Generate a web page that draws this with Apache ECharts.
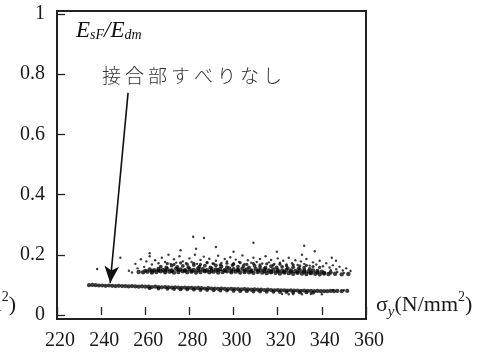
<!DOCTYPE html>
<html><head><meta charset="utf-8">
<script src="https://cdn.jsdelivr.net/npm/echarts@6/dist/echarts.min.js"></script>
<style>html,body{margin:0;padding:0;background:#fff}#c{width:493px;height:354px}</style>
</head><body><div id="c"></div>
<script>
// ---- data ----
const xTicks = [220, 240, 260, 280, 300, 320, 340, 360];
const yTicks = [0, 0.2, 0.4, 0.6, 0.8, 1];
// upper cloud, dense core rows
const coreA = [[257,0.143],[259,0.142],[261,0.144],[263,0.141],[265,0.143],[267,0.145],[269,0.142],[271,0.144],[273,0.141],[275,0.143],[277,0.145],[279,0.142],[281,0.144],[283,0.141],[285,0.143],[287,0.145],[289,0.142],[291,0.144],[293,0.141],[295,0.143],[297,0.145],[299,0.142],[301,0.144],[303,0.141],[305,0.143],[307,0.142],[309,0.140],[311,0.143],[313,0.141],[315,0.139],[317,0.142],[319,0.140],[321,0.138],[323,0.141],[325,0.139],[327,0.137],[329,0.140],[331,0.138],[333,0.136],[335,0.139],[337,0.137],[339,0.135],[341,0.138],[343,0.136],[346,0.137],[349,0.135],[352,0.136]];
const coreD = [[260,0.147],[263,0.146],[266,0.148],[269,0.147],[272,0.146],[275,0.149],[278,0.147],[281,0.146],[284,0.148],[287,0.147],[290,0.146],[293,0.149],[296,0.147],[299,0.146],[302,0.148],[305,0.147],[308,0.145],[311,0.147],[314,0.146],[317,0.144],[320,0.145],[323,0.143],[326,0.144],[329,0.142],[332,0.143],[335,0.141],[338,0.142],[341,0.140],[344,0.141]];
const coreB = [[262,0.151],[264,0.149],[266,0.153],[268,0.150],[270,0.152],[272,0.148],[274,0.154],[276,0.151],[278,0.149],[280,0.153],[282,0.150],[284,0.155],[286,0.152],[288,0.149],[290,0.154],[292,0.151],[294,0.153],[296,0.149],[298,0.155],[300,0.152],[302,0.150],[304,0.154],[306,0.151],[308,0.148],[310,0.153],[312,0.150],[314,0.152],[316,0.148],[318,0.151],[320,0.149],[322,0.147],[324,0.150],[326,0.148],[328,0.146],[330,0.149],[332,0.147],[334,0.145],[336,0.148],[338,0.146],[340,0.144]];
const coreC = [[267,0.161],[269.5,0.158],[272,0.164],[274.5,0.160],[277,0.163],[279.5,0.159],[282,0.166],[284.5,0.161],[287,0.164],[289.5,0.158],[292,0.165],[294.5,0.162],[297,0.159],[299.5,0.166],[302,0.161],[304.5,0.163],[307,0.158],[309.5,0.164],[312,0.160],[314.5,0.157],[317,0.162],[319.5,0.158],[322,0.160],[324.5,0.156],[327,0.159],[329.5,0.155],[332,0.157],[334.5,0.153]];
const coreE = [[270,0.171],[273,0.168],[276,0.173],[279,0.169],[282,0.172],[285,0.168],[288,0.174],[291,0.170],[294,0.167],[297,0.172],[300,0.169],[303,0.174],[306,0.168],[309,0.171],[312,0.167],[315,0.170],[318,0.166],[321,0.169],[324,0.164],[327,0.167],[330,0.163],[333,0.165],[336,0.161],[339,0.158]];
// upper cloud, scattered points and outliers
const upperScatter = [[255.5,0.170],[256.5,0.155],[258,0.185],[259.5,0.160],[260.5,0.178],[262,0.195],[263,0.168],[264.5,0.182],[266,0.172],[267.5,0.190],[269,0.176],[270.5,0.200],[271.5,0.170],[273,0.185],[274,0.174],[275.5,0.195],[277,0.178],[278.5,0.172],[280,0.188],[281,0.176],[282.5,0.200],[283.5,0.170],[285,0.183],[286.5,0.194],[288,0.175],[289,0.187],[290.5,0.171],[292,0.180],[293,0.197],[294.5,0.173],[296,0.186],[297,0.178],[298.5,0.192],[300,0.172],[301,0.184],[302.5,0.176],[304,0.198],[305,0.170],[306.5,0.182],[308,0.174],[309,0.190],[310.5,0.176],[312,0.186],[313,0.171],[314.5,0.195],[316,0.175],[317,0.183],[318.5,0.170],[320,0.188],[321,0.174],[322.5,0.180],[324,0.168],[325,0.190],[326.5,0.172],[328,0.182],[329,0.166],[330.5,0.178],[332,0.170],[333,0.186],[334.5,0.164],[336,0.175],[337.5,0.168],[339,0.180],[340.5,0.162],[342,0.172],[343.5,0.158],[345,0.165],[346.5,0.152],[348,0.160],[349.5,0.148],[351,0.155],[353,0.146],[344,0.149],[347,0.143],[350,0.140],
  [238.2,0.153],[248.7,0.190],[252.6,0.147],[254,0.141],[281.7,0.260],[286.6,0.256],[283,0.220],[292,0.226],[309,0.240],[319.6,0.210],[332,0.230],[336.8,0.212],[331,0.200],[344.5,0.190],[346.4,0.180],[276,0.215],[300,0.210],[262,0.205]];
// lower band (no slip at joints)
const lowerA = [[234.5,0.099],[236,0.100],[237.5,0.099],[239,0.098],[240.5,0.098],[242,0.097],[243.5,0.098],[245,0.097],[246.5,0.096],[248,0.097],[249.5,0.096],[251,0.096],[252.5,0.095],[254,0.096],[255.5,0.095],[257,0.094],[258.5,0.095],[260,0.094],[261.5,0.094],[263,0.093],[264.5,0.094],[266,0.093],[267.5,0.092],[269,0.093],[270.5,0.092],[272,0.091],[273.5,0.092],[275,0.091],[276.5,0.090],[278,0.091],[279.5,0.090],[281,0.090],[282.5,0.089],[284,0.090],[285.5,0.089],[287,0.088],[288.5,0.089],[290,0.088],[291.5,0.088],[293,0.087],[294.5,0.088],[296,0.087],[297.5,0.086],[299,0.087],[300.5,0.086],[302,0.086],[303.5,0.085],[305,0.086],[306.5,0.085],[308,0.084],[309.5,0.085],[311,0.084],[312.5,0.084],[314,0.083],[315.5,0.084],[317,0.083],[318.5,0.082],[320,0.083],[321.5,0.082],[323,0.082],[324.5,0.081],[326,0.082],[327.5,0.081],[329,0.081],[330.5,0.080],[332,0.081],[333.5,0.080],[335,0.080],[336.5,0.079],[338,0.080],[339.5,0.079],[341,0.079],[342.5,0.079],[344,0.080],[345.5,0.079],[347,0.080],[349,0.079],[351.5,0.080]];
const lowerB = [[262,0.089],[266,0.088],[270,0.087],[273,0.086],[276,0.085],[279,0.085],[282,0.084],[285,0.083],[288,0.083],[291,0.082],[294,0.081],[297,0.081],[300,0.080],[303,0.079],[306,0.079],[309,0.078],[312,0.078],[315,0.077],[318,0.077],[321,0.076],[324,0.076],[327,0.075],[330,0.075],[333,0.075],[336,0.074]];
const lowerSparse = [[322,0.070],[325,0.069],[327,0.070],[331,0.069],[335,0.070],[340,0.069],[345,0.083],[350,0.082]];
// annotation arrow (data coords)
const arrowFrom = [252.2, 0.738];
const arrowTo = [244.1, 0.106];

const SERIF = 'Liberation Serif';
const chart = echarts.init(document.getElementById('c'), null, {renderer: 'canvas'});
const dot = (name, data, size) => ({
  name, type: 'scatter', data, symbol: 'circle', symbolSize: size,
  itemStyle: {color: '#0a0a0a'}, xAxisIndex: 0, yAxisIndex: 0, silent: true
});
const series = [
  dot('coreA', coreA, 4.4), dot('coreD', coreD, 4.2), dot('coreB', coreB, 4.4), dot('coreC', coreC, 3.8), dot('coreE', coreE, 3.2),
  dot('upperScatter', upperScatter, 2.4),
  dot('lowerA', lowerA, 4.2), dot('lowerB', lowerB, 3.8), dot('lowerSparse', lowerSparse, 2.4)
];
series[6].markLine = {
  silent: true, animation: false,
  symbol: ['none', 'arrow'], symbolSize: [11, 17],
  label: {show: false},
  lineStyle: {color: '#111', width: 1.6, type: 'solid'},
  emphasis: {disabled: true},
  data: [[{coord: arrowFrom}, {coord: arrowTo}]]
};

chart.setOption({
  animation: false,
  grid: [
    {left: 57, right: 127, top: 14, bottom: 39, show: false},
    {left: 57, right: 127, top: 11, bottom: 35, show: true, borderColor: '#222', borderWidth: 2, backgroundColor: 'transparent', z: 0}
  ],
  xAxis: [
    {gridIndex: 0, type: 'value', min: xTicks[0], max: xTicks[xTicks.length - 1], interval: 20, offset: 4,
     axisLine: {show: false}, splitLine: {show: false},
     axisTick: {show: true, inside: true, length: 8, lineStyle: {color: '#222', width: 1.3}},
     axisLabel: {show: true, margin: 12, color: '#1a1a1a', fontFamily: SERIF, fontSize: 20, padding: [0, 0, 0, 6]}},
    {gridIndex: 1, type: 'value', min: 0, max: 1, show: false}
  ],
  yAxis: [
    {gridIndex: 0, type: 'value', min: yTicks[0], max: yTicks[yTicks.length - 1], interval: 0.2,
     axisLine: {show: false}, splitLine: {show: false},
     axisTick: {show: true, inside: true, length: 8, lineStyle: {color: '#222', width: 1.3}},
     axisLabel: {show: true, margin: 12, color: '#1a1a1a', fontFamily: SERIF, fontSize: 20,
       formatter: v => (Math.abs(v) < 1e-9 ? '0' : (Math.abs(v - 1) < 1e-9 ? '1' : String(Math.round(v * 10) / 10)))}},
    {gridIndex: 1, type: 'value', min: 0, max: 1, show: false}
  ],
  series,
  graphic: [
    {type: 'text', left: 76, top: 19, silent: true,
     style: {text: '{E|E}{s|sF}{E|/E}{s|dm}', rich: {
       E: {fontFamily: SERIF, fontStyle: 'italic', fontSize: 23, lineHeight: 24, fill: '#111'},
       s: {fontFamily: SERIF, fontStyle: 'italic', fontSize: 14, lineHeight: 10, verticalAlign: 'bottom', fill: '#111'}
     }}},
    {type: 'text', left: 102, top: 66, silent: true,
     style: {text: '接合部すべりなし'.split('').map(c => '{c|' + c + '}').join(''), rich: {
       c: {fontFamily: 'Noto Sans CJK JP', fontSize: 19, fontWeight: 300, padding: [0, 2, 0, 2], fill: '#333'}
     }}},
    {type: 'text', left: 376, top: 290, silent: true,
     style: {text: '{a|σ}{b|y}{a|(N/mm}{c|2}{a|)}', rich: {
       a: {fontFamily: SERIF, fontSize: 22, lineHeight: 26, fill: '#1a1a1a'},
       b: {fontFamily: SERIF, fontStyle: 'italic', fontSize: 15, lineHeight: 14, verticalAlign: 'bottom', fill: '#1a1a1a'},
       c: {fontFamily: SERIF, fontSize: 14, lineHeight: 30, verticalAlign: 'top', fill: '#1a1a1a'}
     }}},
    {type: 'text', right: 477, top: 290, silent: true,
     style: {text: '{a|(N/mm}{c|2}{a|)}', rich: {
       a: {fontFamily: SERIF, fontSize: 22, lineHeight: 26, fill: '#1a1a1a'},
       c: {fontFamily: SERIF, fontSize: 14, lineHeight: 30, verticalAlign: 'top', fill: '#1a1a1a'}
     }}}
  ]
});
</script></body></html>
